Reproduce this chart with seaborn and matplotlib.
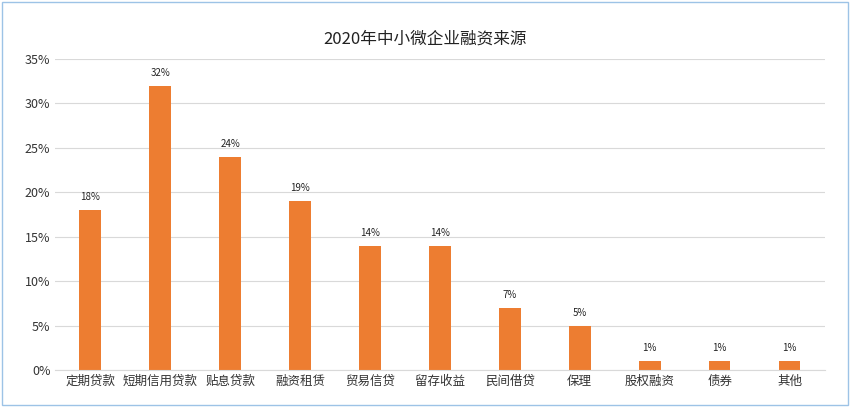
import matplotlib.pyplot as plt
import seaborn as sns
import pandas as pd

plt.rcParams['font.family'] = 'Noto Sans CJK SC'

categories = ['定期贷款', '短期信用贷款', '贴息贷款', '融资租赁', '贸易信贷', '留存收益',
              '民间借贷', '保理', '股权融资', '债券', '其他']
values = [18, 32, 24, 19, 14, 14, 7, 5, 1, 1, 1]
df = pd.DataFrame({'cat': categories, 'val': values})

fig = plt.figure(figsize=(8.5, 4.07), dpi=100)
ax = fig.add_axes([0.065, 0.091, 0.905, 0.764])
sns.barplot(data=df, x='cat', y='val', color='#ED7D31', width=0.31, saturation=1, ax=ax)

for i, v in enumerate(values):
    ax.text(i, v + 0.9, f'{v}%', ha='center', va='bottom', fontsize=7, color='#222222')

ax.set_ylim(0, 35)
ax.set_yticks(range(0, 36, 5))
ax.set_yticklabels([f'{t}%' for t in range(0, 36, 5)], fontsize=9, color='#333333')
ax.tick_params(axis='x', labelsize=9, colors='#333333', length=0)
ax.tick_params(axis='y', length=0)
ax.set_xlabel('')
ax.set_ylabel('')
ax.grid(axis='y', color='#D9D9D9', linewidth=0.8)
ax.set_axisbelow(True)
for s in ['top', 'right', 'left']:
    ax.spines[s].set_visible(False)
ax.spines['bottom'].set_color('#D9D9D9')

fig.text(0.5, 0.905, '2020年中小微企业融资来源', ha='center', va='center', fontsize=12, color='#222222')
fig.patches.append(plt.Rectangle((0.002, 0.004), 0.996, 0.992, transform=fig.transFigure,
                                 fill=False, edgecolor='#9DC3E6', linewidth=1))
fig.savefig('out.png', dpi=100)
